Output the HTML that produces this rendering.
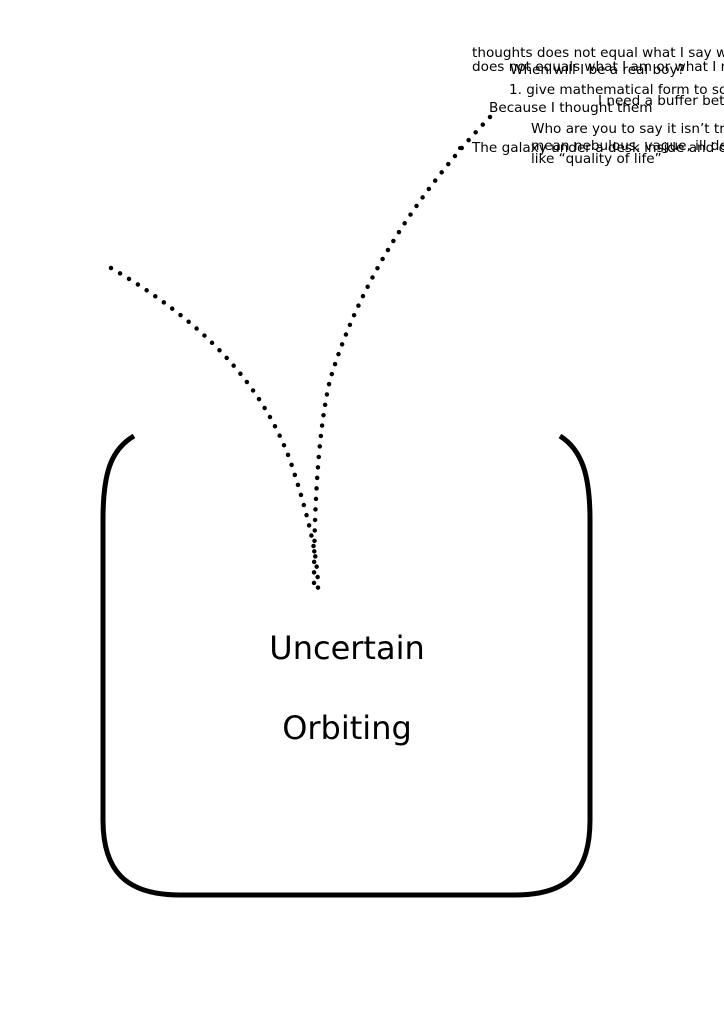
<!DOCTYPE html>
<html><head><meta charset="utf-8"><style>
html,body{margin:0;padding:0;background:#fff;}
svg{display:block}
text{font-family:"DejaVu Sans","Liberation Sans",sans-serif;fill:#000}
</style></head><body>
<svg width="724" height="1024" viewBox="0 0 724 1024" xmlns="http://www.w3.org/2000/svg">
<path d="M134 436 C110 450 103 475 103 520 L103 820 C103 870 125 895 180 895 L515 895 C570 895 590 870 590 820 L590 520 C590 475 582 450 560 436" fill="none" stroke="#000" stroke-width="5"/>
<path d="M111 268 C200 320 260 380 290 460 C310 520 318 560 318 588" fill="none" stroke="#000" stroke-width="4.5" stroke-linecap="round" stroke-dasharray="0 10.5"/>
<path d="M490 117 C420 190 360 280 330 380 C316 440 314 530 314 588" fill="none" stroke="#000" stroke-width="4.5" stroke-linecap="round" stroke-dasharray="0 10.5"/>
<circle cx="460" cy="148" r="2"/>
<g font-size="13.6">
<text x="472" y="57">thoughts does not equal what I say which</text>
<text x="472" y="71">does not equals what I am or what I mean</text>
<text x="510" y="74">When will I be a real boy?</text>
<text x="509" y="94">1. give mathematical form to something</text>
<text x="598" y="105">I need a buffer between</text>
<text x="489" y="112">Because I thought them</text>
<text x="531" y="133">Who are you to say it isn’t true</text>
<text x="531" y="150">mean nebulous, vague, ill defined</text>
<text x="472" y="152">The galaxy under a desk inside and out</text>
<text x="531" y="163">like “quality of life”</text>
</g>
<text x="347" y="659" font-size="32" text-anchor="middle">Uncertain</text>
<text x="347" y="739" font-size="32" text-anchor="middle">Orbiting</text>
</svg>
</body></html>
